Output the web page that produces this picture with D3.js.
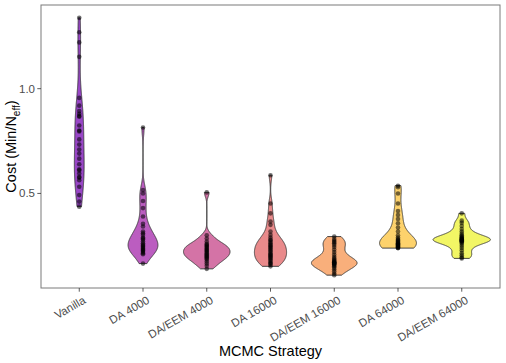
<!DOCTYPE html>
<html>
<head>
<meta charset="utf-8">
<script src="https://cdn.jsdelivr.net/npm/d3@7"></script>
<style>
	body { margin: 0; background: #fff; }
	text { font-family: "Liberation Sans", Arial, sans-serif; }
</style>
</head>
<body>
<svg id="chart" width="506" height="363"></svg>
<script>
var categories = [ 'Vanilla', 'DA 4000', 'DA/EEM 4000', 'DA 16000', 'DA/EEM 16000', 'DA 64000', 'DA/EEM 64000' ];

var fills = [ '#9846c6', '#bb5dc0', '#d473a6', '#e98a8b', '#f9af7b', '#fdd26c', '#f2f665' ];

var vanilla = [ 1.338, 1.269, 1.221, 1.152, 0.956, 0.919, 0.893, 0.88, 0.87, 0.866, 0.824, 0.80, 0.796, 0.758, 0.733, 0.71, 0.69, 0.666, 0.639, 0.615, 0.61, 0.595, 0.579, 0.575, 0.563, 0.532, 0.492, 0.461, 0.437 ];
var da4000 = [ 0.815, 0.516, 0.50, 0.464, 0.43, 0.39, 0.355, 0.342, 0.318, 0.31, 0.302, 0.29, 0.285, 0.28, 0.27, 0.262, 0.255, 0.25, 0.245, 0.24, 0.235, 0.23, 0.226, 0.22, 0.215, 0.21, 0.165 ];
var daeem4000 = [ 0.505, 0.30, 0.285, 0.27, 0.26, 0.255, 0.25, 0.245, 0.24, 0.235, 0.23, 0.225, 0.22, 0.215, 0.21, 0.205, 0.2, 0.195, 0.19, 0.185, 0.175, 0.165, 0.155, 0.14 ];
var da16000 = [ 0.587, 0.452, 0.405, 0.366, 0.35, 0.318, 0.302, 0.29, 0.28, 0.275, 0.268, 0.262, 0.255, 0.25, 0.245, 0.24, 0.235, 0.228, 0.222, 0.215, 0.21, 0.205, 0.2, 0.195, 0.19, 0.183, 0.178, 0.17, 0.165, 0.16, 0.152 ];
var daeem16000 = [ 0.294, 0.282, 0.274, 0.268, 0.262, 0.254, 0.244, 0.232, 0.22, 0.208, 0.198, 0.19, 0.184, 0.179, 0.175, 0.172, 0.17, 0.168, 0.166, 0.164, 0.161, 0.158, 0.153, 0.146, 0.138, 0.128, 0.118, 0.11 ];
var da64000 = [ 0.537, 0.53, 0.5, 0.452, 0.416, 0.397, 0.378, 0.358, 0.337, 0.318, 0.3, 0.29, 0.282, 0.278, 0.274, 0.27, 0.266, 0.262, 0.26, 0.257, 0.255, 0.252, 0.25, 0.247, 0.245, 0.242, 0.24, 0.239 ];
var daeem64000 = [ 0.405, 0.37, 0.36, 0.345, 0.33, 0.318, 0.308, 0.3, 0.295, 0.29, 0.287, 0.284, 0.281, 0.279, 0.277, 0.275, 0.272, 0.27, 0.266, 0.26, 0.25, 0.24, 0.228, 0.215, 0.205, 0.195, 0.19 ];

var series = [ vanilla, da4000, daeem4000, da16000, daeem16000, da64000, daeem64000 ];
var yTicks = [ 0.5, 1.0 ];

var svg = d3.select( '#chart' );
var panel = { left: 41, right: 500, top: 5, bottom: 288 };

var allValues = d3.merge( series );
var lo = d3.min( allValues ), hi = d3.max( allValues );
var pad = ( hi - lo ) * 0.05;

var x = d3.scaleBand()
	.domain( categories )
	.range( [ panel.left, panel.right ] )
	.paddingOuter( 0.1 )
	.paddingInner( 0 );

var y = d3.scaleLinear()
	.domain( [ lo - pad, hi + pad ] )
	.range( [ panel.bottom, panel.top ] );

// gaussian kde, bw.nrd0 like R
function bwNrd0( v ) {
	var s = v.slice().sort( d3.ascending );
	var sd = d3.deviation( s );
	var iqr = d3.quantileSorted( s, 0.75 ) - d3.quantileSorted( s, 0.25 );
	var m = Math.min( sd, iqr / 1.34 );
	if ( !( m > 0 ) ) m = sd;
	return 0.9 * m * Math.pow( s.length, -0.2 );
}

var dens = series.map( function ( v ) {
	var bw = bwNrd0( v );
	var mn = d3.min( v ), mx = d3.max( v );
	var pts = d3.range( 512 ).map( function ( i ) {
		var t = mn + ( mx - mn ) * i / 511;
		var d = d3.sum( v, function ( xi ) {
			var u = ( t - xi ) / bw;
			return Math.exp( -0.5 * u * u );
		} ) / ( v.length * bw * Math.sqrt( 2 * Math.PI ) );
		return [ t, d ];
	} );
	return pts;
} );

var maxDens = d3.max( dens, function ( p ) { return d3.max( p, function ( d ) { return d[1]; } ); } );
var halfW = x.bandwidth() * 0.9 / 2;

var g = svg.append( 'g' );

dens.forEach( function ( p, i ) {
	var cx = x( categories[i] ) + x.bandwidth() / 2;
	var area = d3.area()
		.y( function ( d ) { return y( d[0] ); } )
		.x0( function ( d ) { return cx - d[1] / maxDens * halfW; } )
		.x1( function ( d ) { return cx + d[1] / maxDens * halfW; } );
	g.append( 'path' )
		.datum( p )
		.attr( 'd', area )
		.attr( 'fill', fills[i] )
		.attr( 'stroke', '#333' )
		.attr( 'stroke-width', 0.9 );
} );

series.forEach( function ( v, i ) {
	var cx = x( categories[i] ) + x.bandwidth() / 2;
	g.selectAll( null )
		.data( v )
		.enter()
		.append( 'circle' )
		.attr( 'cx', cx )
		.attr( 'cy', function ( d ) { return y( d ); } )
		.attr( 'r', 2.3 )
		.attr( 'fill', '#000' )
		.attr( 'fill-opacity', 0.55 );
} );

// panel border
svg.append( 'rect' )
	.attr( 'x', panel.left )
	.attr( 'y', panel.top )
	.attr( 'width', panel.right - panel.left )
	.attr( 'height', panel.bottom - panel.top )
	.attr( 'fill', 'none' )
	.attr( 'stroke', '#7a7a7a' )
	.attr( 'stroke-width', 1 );

// y axis
var yAxis = svg.append( 'g' );
yTicks.forEach( function ( t ) {
	yAxis.append( 'line' )
		.attr( 'x1', panel.left - 3.7 ).attr( 'x2', panel.left )
		.attr( 'y1', y( t ) ).attr( 'y2', y( t ) )
		.attr( 'stroke', '#333' ).attr( 'stroke-width', 0.8 );
	yAxis.append( 'text' )
		.attr( 'x', panel.left - 6 )
		.attr( 'y', y( t ) )
		.attr( 'dy', '0.35em' )
		.attr( 'text-anchor', 'end' )
		.attr( 'font-size', 11.5 )
		.attr( 'fill', '#4d4d4d' )
		.text( d3.format( '.1f' )( t ) );
} );

// x axis
var xAxis = svg.append( 'g' );
categories.forEach( function ( c ) {
	var cx = x( c ) + x.bandwidth() / 2;
	xAxis.append( 'line' )
		.attr( 'x1', cx ).attr( 'x2', cx )
		.attr( 'y1', panel.bottom ).attr( 'y2', panel.bottom + 3.7 )
		.attr( 'stroke', '#333' ).attr( 'stroke-width', 0.8 );
	xAxis.append( 'text' )
		.attr( 'transform', 'translate(' + ( cx + 3 ) + ',' + ( panel.bottom + 7 ) + ') rotate(-30)' )
		.attr( 'text-anchor', 'end' )
		.attr( 'dy', '0.75em' )
		.attr( 'font-size', 11.5 )
		.attr( 'fill', '#4d4d4d' )
		.text( c );
} );

svg.append( 'text' )
	.attr( 'x', ( panel.left + panel.right ) / 2 )
	.attr( 'y', 356 )
	.attr( 'text-anchor', 'middle' )
	.attr( 'font-size', 14.5 )
	.attr( 'fill', '#000' )
	.text( 'MCMC Strategy' );

var yt = svg.append( 'text' )
	.attr( 'transform', 'translate(16,' + ( ( panel.top + panel.bottom ) / 2 ) + ') rotate(-90)' )
	.attr( 'text-anchor', 'middle' )
	.attr( 'font-size', 14.5 )
	.attr( 'fill', '#000' );
yt.append( 'tspan' ).text( 'Cost (Min/N' );
yt.append( 'tspan' ).attr( 'font-size', 10 ).attr( 'dy', 4 ).text( 'eff' );
yt.append( 'tspan' ).attr( 'dy', -4 ).text( ')' );
</script>
</body>
</html>
